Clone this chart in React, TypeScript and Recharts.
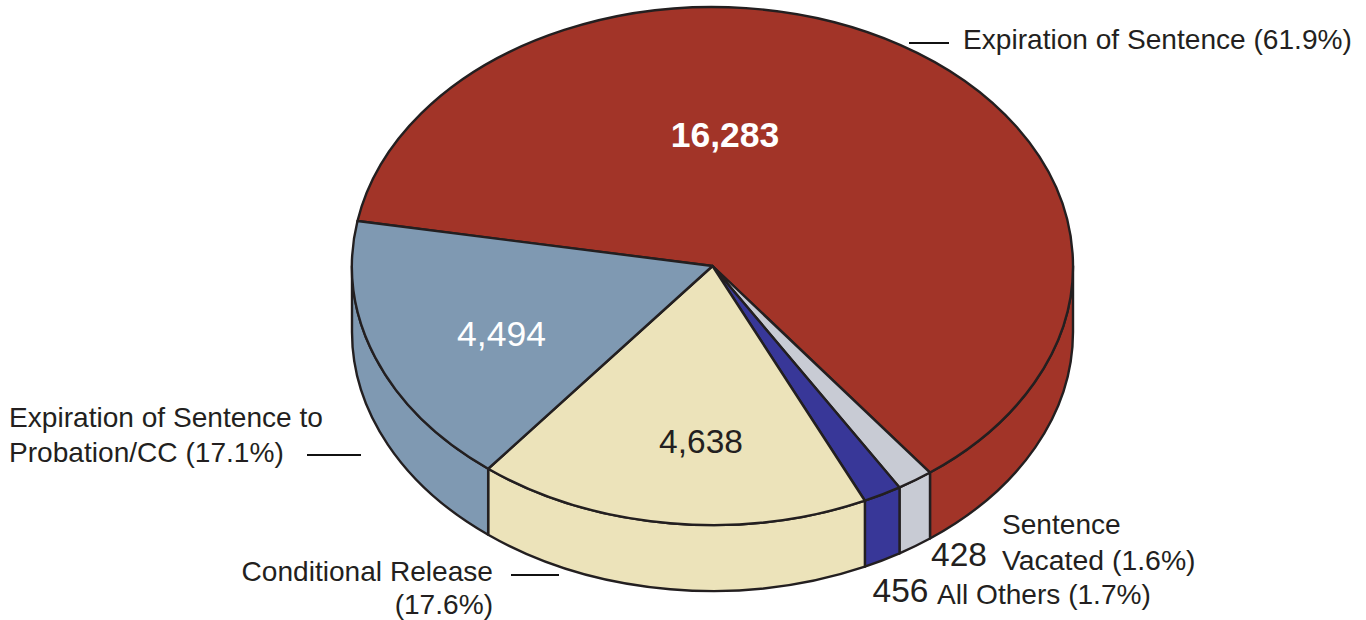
import { Pie, PieChart } from "recharts";

const categories = [
  "Expiration of Sentence",
  "Sentence Vacated",
  "All Others",
  "Conditional Release",
  "Expiration of Sentence to Probation/CC",
];
const counts = [16283, 428, 456, 4638, 4494];
const colors = ["#a23428", "#c8cbd4", "#383798", "#ece3ba", "#7f99b2"];

const CX = 712.5;
const CY = 266;
const RX = 360.5;
const RY = 259;
const DEPTH = 66;
const INK = "#231f20";
const FONT = "Liberation Sans, Arial, sans-serif";

const tableData = categories.map((name, i) => ({
  name,
  value: counts[i],
  fill: colors[i],
}));

function pt(angle: number, dy = 0) {
  const a = (angle * Math.PI) / 180;
  return `${CX + RX * Math.cos(a)} ${CY - RY * Math.sin(a) + dy}`;
}

// recharts gives the angles, we squash the circle into an ellipse
function TopSlice(props: any) {
  const { startAngle, endAngle, fill } = props;
  const large = Math.abs(startAngle - endAngle) > 180 ? 1 : 0;
  const d = `M ${CX} ${CY} L ${pt(startAngle)} A ${RX} ${RY} 0 ${large} 1 ${pt(endAngle)} Z`;
  return <path d={d} fill={fill} stroke={INK} strokeWidth={2.4} strokeLinejoin="round" />;
}

// only the front half of the rim can be seen
function WallSlice(props: any) {
  const { startAngle, endAngle, fill } = props;
  const s = Math.min(startAngle, 0);
  const e = Math.max(endAngle, -180);
  if (s <= e) return <g />;
  const d =
    `M ${pt(s)} L ${pt(s, DEPTH)} A ${RX} ${RY} 0 0 1 ${pt(e, DEPTH)} ` +
    `L ${pt(e)} A ${RX} ${RY} 0 0 0 ${pt(s)} Z`;
  return <path d={d} fill={fill} stroke={INK} strokeWidth={2.4} strokeLinejoin="round" />;
}

const labelStyle = { fontFamily: FONT, fontSize: 28.1, fill: INK };
const valueStyle = { fontFamily: FONT, fontSize: 33.5, fill: INK };

export default function App() {
  return (
    <div style={{ position: "fixed", left: 0, top: 0, width: 1366, height: 620, background: "#fff" }}>
      <PieChart width={1366} height={620} margin={{ top: 0, right: 0, bottom: 0, left: 0 }}>
        <Pie
          data={tableData}
          dataKey="value"
          cx={CX}
          cy={CY}
          outerRadius={RX}
          startAngle={170}
          endAngle={-190}
          stroke="none"
          shape={WallSlice}
          inactiveShape={WallSlice}
          isAnimationActive={false}
        />
        <Pie
          data={tableData}
          dataKey="value"
          cx={CX}
          cy={CY}
          outerRadius={RX}
          startAngle={170}
          endAngle={-190}
          stroke="none"
          shape={TopSlice}
          inactiveShape={TopSlice}
          isAnimationActive={false}
        />
      </PieChart>
      {/* text sits in its own layer, the pies would paint over it */}
      <svg width={1366} height={620} style={{ position: "absolute", left: 0, top: 0 }}>
        <text x={725} y={147} textAnchor="middle" style={{ ...valueStyle, fontSize: 35.5, fontWeight: 700, fill: "#fff" }}>
          {counts[0].toLocaleString("en-US")}
        </text>
        <text x={501.5} y={346} textAnchor="middle" style={{ ...valueStyle, fontSize: 35.5, fill: "#fff" }}>
          {counts[4].toLocaleString("en-US")}
        </text>
        <text x={701} y={453} textAnchor="middle" style={valueStyle}>
          {counts[3].toLocaleString("en-US")}
        </text>
        <text x={959} y={566} textAnchor="middle" style={valueStyle}>
          {counts[1]}
        </text>
        <text x={900.5} y={602} textAnchor="middle" style={valueStyle}>
          {counts[2]}
        </text>

        <text x={963} y={49} style={labelStyle}>Expiration of Sentence (61.9%)</text>
        <text x={9} y={427} style={labelStyle}>Expiration of Sentence to</text>
        <text x={9} y={462} style={labelStyle}>Probation/CC (17.1%)</text>
        <text x={493} y={581} textAnchor="end" style={labelStyle}>Conditional Release</text>
        <text x={493} y={614} textAnchor="end" style={labelStyle}>(17.6%)</text>
        <text x={1002} y={534} style={labelStyle}>Sentence</text>
        <text x={1002} y={570} style={{ ...labelStyle, fontSize: 28.4 }}>Vacated (1.6%)</text>
        <text x={937} y={604} style={labelStyle}>All Others (1.7%)</text>

        <line x1={909} y1={43} x2={949} y2={43} stroke="#111" strokeWidth={2} />
        <line x1={307} y1={455} x2={361} y2={455} stroke="#111" strokeWidth={2} />
        <line x1={511} y1={575} x2={559} y2={575} stroke="#111" strokeWidth={2} />
      </svg>
    </div>
  );
}
